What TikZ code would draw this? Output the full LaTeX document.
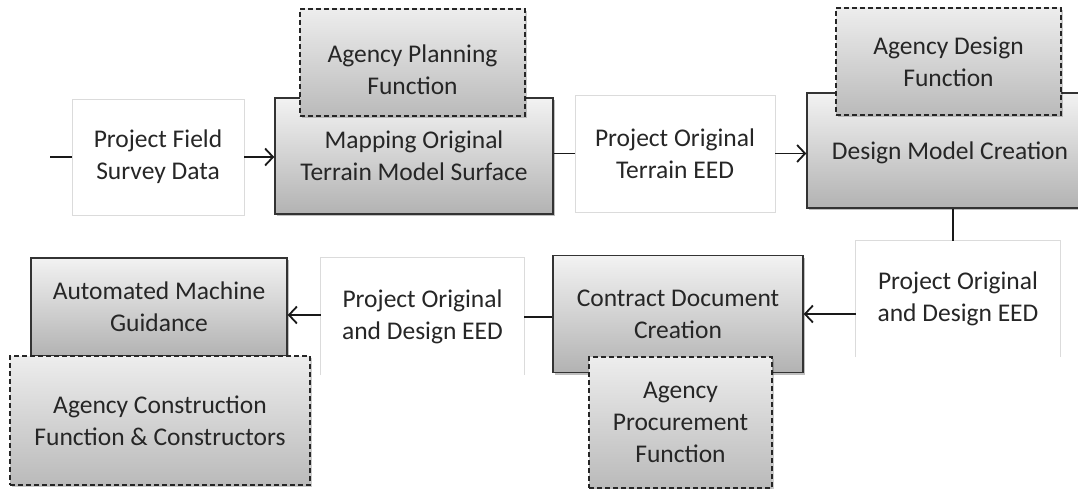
\documentclass[tikz,border=0pt]{standalone}
\usepackage{fontspec}
\setmainfont{Carlito}
\usetikzlibrary{arrows.meta,shadows}
\begin{document}
\begin{tikzpicture}[x=1pt,y=-1pt,
  every node/.style={font=\fontsize{25.5}{32}\selectfont, text=black!85, align=center, inner sep=0pt},
  datbox/.style={fill=white, draw=black!14, line width=0.8pt},
  databg/.style={fill=white},
  opedge/.style={draw=black!14, line width=0.8pt},
  procbox/.style={draw=black!80, line width=1.4pt, top color=black!5, bottom color=black!30,
    drop shadow={shadow xshift=2pt, shadow yshift=-2pt, opacity=0.25, fill=black}},
  agencybox/.style={draw=black!85, line width=1.6pt, dash pattern=on 5pt off 3pt,
    top color=black!7, bottom color=black!27,
    drop shadow={shadow xshift=2pt, shadow yshift=-2pt, opacity=0.2, fill=black}},
  flow/.style={draw=black!90, line width=1.8pt},
  flowarr/.style={flow, -{Straight Barb[length=8pt,width=17pt,line width=1.8pt]}}]
\useasboundingbox (0,0) rectangle (1078,489);
\clip (0,0) rectangle (1078,489);

% ---- top row ----
\coordinate (in) at (50,157);
\node[datbox, minimum width=172pt, minimum height=116pt] (fsd) at (158,157)
  {Project Field\\Survey Data};
\node[procbox, minimum width=278pt, minimum height=116pt] (map) at (414,156)
  {Mapping Original\\Terrain Model Surface};
\node[agencybox, minimum width=225pt, minimum height=107pt] (apf) at (412.5,62.5) {};
\node (apftext) at (412.5,70) {Agency Planning\\Function};
\node[datbox, minimum width=200pt, minimum height=117pt] (ote) at (675,153.5)
  {Project Original\\Terrain EED};
\node[procbox, minimum width=290pt, minimum height=115pt] (dmc) at (952,150.5) {};
\node (dmctext) at (950,153) {Design Model Creation};
\node[agencybox, minimum width=225pt, minimum height=107pt] (adf) at (948.5,61.5)
  {Agency Design\\Function};

% ---- bottom row ----
\node[databg, minimum width=204pt, minimum height=116pt] (ode1) at (958,299)
  {Project Original\\and Design EED};
\draw[opedge] (ode1.south west) -- (ode1.north west) -- (ode1.north east) -- (ode1.south east);
\node[procbox, minimum width=250pt, minimum height=117pt] (cdc) at (678,314)
  {Contract Document\\Creation};
\node[agencybox, minimum width=183pt, minimum height=131pt] (apr) at (680.5,422.5)
  {Agency\\Procurement\\Function};
\node[databg, minimum width=203pt, minimum height=117pt] (ode2) at (422.5,316.5)
  {Project Original\\and Design EED};
\draw[opedge] (ode2.south west) -- (ode2.north west) -- (ode2.north east) -- (ode2.south east);
\node[procbox, minimum width=256pt, minimum height=98pt] (amg) at (159,307)
  {Automated Machine\\Guidance};
\node[agencybox, minimum width=300pt, minimum height=129pt] (acf) at (160,420.5)
  {Agency Construction\\Function \& Constructors};

% ---- connectors ----
\draw[flow] (in) -- (fsd.west);
\draw[flowarr] (fsd.east) -- (map.west |- fsd.east);
\draw[flow] (map.east |- ote.west) -- (ote.west);
\draw[flowarr] (ote.east) -- (dmc.west |- ote.east);
\draw[flow] (dmc.south -| 953,0) -- (ode1.north -| 953,0);
\draw[flowarr] (ode1.west |- 0,314) -- (cdc.east |- 0,314);
\draw[flow] (cdc.west |- 0,317) -- (ode2.east |- 0,317);
\draw[flowarr] (ode2.west |- 0,315) -- (amg.east |- 0,315);
\end{tikzpicture}
\end{document}
